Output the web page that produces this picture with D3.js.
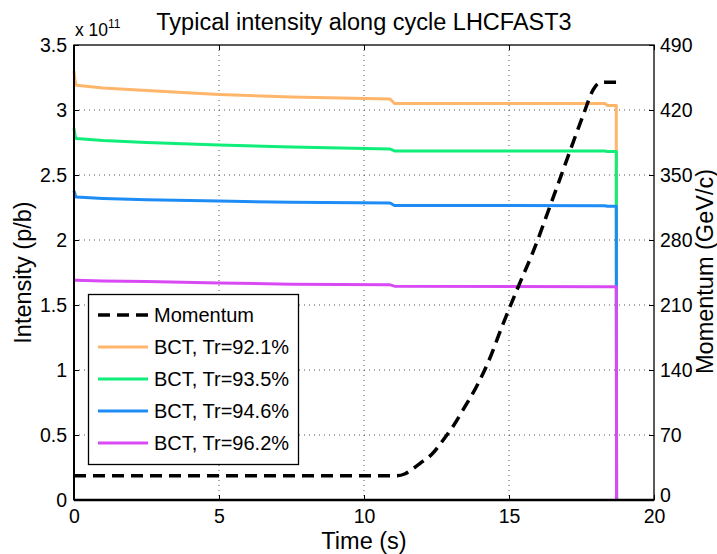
<!DOCTYPE html>
<html><head><meta charset="utf-8">
<script src="https://cdn.jsdelivr.net/npm/d3@7"></script>
<style>
body{margin:0;background:#fff;}
svg{display:block;font-family:"Liberation Sans",Arial,Helvetica,sans-serif;}
</style></head>
<body><div id="chart"></div>
<script>
// ---- data ----
const title = "Typical intensity along cycle LHCFAST3";
const xTicks = [0, 5, 10, 15, 20];
const yLeftTicks = [0, 0.5, 1, 1.5, 2, 2.5, 3, 3.5];
const yRightTicks = [0, 70, 140, 210, 280, 350, 420, 490];

// momentum (GeV/c) vs time (s)
const momT = [0, 11.1, 11.4, 11.7, 12.0, 12.33, 12.73, 13.1, 13.48, 13.94, 14.29, 14.8, 15.32, 15.84, 16.41, 16.99, 17.56, 17.9, 18.1, 18.3, 18.93];
const momP = [26, 26, 28, 34, 41, 49, 64.6, 80.8, 100.5, 125.7, 149, 190, 229.7, 268, 316, 366, 414.6, 441.6, 449, 450, 450];

// BCT intensities (units of 1e11 p/b)
const bctT = [0, 0.04, 0.08, 1, 2.5, 5, 7.5, 10.9, 11.05, 15, 18.3, 18.4, 18.7, 18.71];
const bct921 = [3.30, 3.22, 3.19, 3.17, 3.15, 3.12, 3.10, 3.085, 3.05, 3.05, 3.05, 3.035, 3.035, 0];
const bct935 = [2.86, 2.80, 2.78, 2.765, 2.75, 2.73, 2.715, 2.70, 2.685, 2.685, 2.685, 2.68, 2.68, 0];
const bct946 = [2.38, 2.35, 2.33, 2.32, 2.31, 2.30, 2.29, 2.285, 2.265, 2.265, 2.264, 2.26, 2.26, 0];
const bct962 = [1.69, 1.69, 1.69, 1.685, 1.68, 1.67, 1.66, 1.655, 1.645, 1.643, 1.641, 1.64, 1.64, 0];

const seriesNames = ["BCT, Tr=92.1%", "BCT, Tr=93.5%", "BCT, Tr=94.6%", "BCT, Tr=96.2%"];
const seriesValues = [bct921, bct935, bct946, bct962];
const seriesColors = ["#ffb66b", "#10ee7a", "#1e8cf5", "#d94af5"];

// ---- layout ----
const W = 717, H = 554;
const m = {left: 74, right: 63, top: 45, bottom: 54};
const svg = d3.select("#chart").append("svg").attr("width", W).attr("height", H);

const x = d3.scaleLinear().domain([0, 20]).range([m.left, W - m.right]);
const yL = d3.scaleLinear().domain([0, 3.5]).range([H - m.bottom, m.top]);
const yR = d3.scaleLinear().domain([0, 490]).range([H - m.bottom, m.top]);

// grid
const grid = svg.append("g");
grid.selectAll("line.gx").data(xTicks.slice(1, -1)).join("line")
  .attr("x1", d => x(d)).attr("x2", d => x(d)).attr("y1", m.top).attr("y2", H - m.bottom)
  .attr("stroke", "#555").attr("stroke-width", 1).attr("stroke-dasharray", "1,4");
grid.selectAll("line.gy").data(yLeftTicks.slice(1, -1)).join("line")
  .attr("y1", d => yL(d)).attr("y2", d => yL(d)).attr("x1", m.left).attr("x2", W - m.right)
  .attr("stroke", "#555").attr("stroke-width", 1).attr("stroke-dasharray", "1,4");

// BCT lines
const lineL = d3.line().x((d, i) => x(bctT[i])).y(d => yL(d));
seriesValues.forEach((vals, k) => {
  svg.append("path").datum(vals).attr("d", lineL)
    .attr("fill", "none").attr("stroke", seriesColors[k]).attr("stroke-width", 3)
    .attr("stroke-linejoin", "round");
});

// momentum
const lineR = d3.line().x((d, i) => x(momT[i])).y(d => yR(d)).curve(d3.curveMonotoneX);
svg.append("path").datum(momP).attr("d", lineR)
  .attr("fill", "none").attr("stroke", "#000").attr("stroke-width", 3.5)
  .attr("stroke-dasharray", "12,7");

// frame
svg.append("rect").attr("x", m.left).attr("y", m.top)
  .attr("width", W - m.left - m.right).attr("height", H - m.top - m.bottom)
  .attr("fill", "none").attr("stroke", "#000").attr("stroke-width", 1.3);
svg.append("line").attr("x1", m.left).attr("x2", W - m.right).attr("y1", H - m.bottom).attr("y2", H - m.bottom)
  .attr("stroke", "#000").attr("stroke-width", 2.5);
svg.append("line").attr("x1", m.left).attr("x2", m.left).attr("y1", m.top).attr("y2", H - m.bottom)
  .attr("stroke", "#000").attr("stroke-width", 2);

// axes
const fs = 19.5;
const axB = svg.append("g").attr("transform", `translate(0,${H - m.bottom})`)
  .call(d3.axisBottom(x).tickValues(xTicks).tickFormat(d3.format("d")).tickSize(-5).tickPadding(9));
const axL = svg.append("g").attr("transform", `translate(${m.left},0)`)
  .call(d3.axisLeft(yL).tickValues(yLeftTicks).tickFormat(d => d === 0 ? "0" : d3.format("~g")(d)).tickSize(-5).tickPadding(7));
const axR = svg.append("g").attr("transform", `translate(${W - m.right},0)`)
  .call(d3.axisRight(yR).tickValues(yRightTicks).tickFormat(d3.format("d")).tickSize(-5).tickPadding(6));
const axT = svg.append("g").attr("transform", `translate(0,${m.top})`)
  .call(d3.axisTop(x).tickValues(xTicks).tickSize(-5).tickFormat(""));
[axB, axL, axR, axT].forEach(a => {
  a.select(".domain").remove();
  a.selectAll(".tick line").attr("stroke", "#000").attr("stroke-width", 1);
  a.selectAll("text").attr("font-size", fs).attr("fill", "#000").attr("font-family", "Liberation Sans, Arial, sans-serif");
});
// keep right-axis "0" clear of the bottom "20"
axR.selectAll(".tick").filter(d => d === 0).select("text").attr("dy", "0.1em");

// titles
svg.append("text").attr("x", (m.left + W - m.right) / 2).attr("y", 30)
  .attr("text-anchor", "middle").attr("font-size", 23.5).text(title);
svg.append("text").attr("x", (m.left + W - m.right) / 2).attr("y", 549)
  .attr("text-anchor", "middle").attr("font-size", 23.5).text("Time (s)");
svg.append("text").attr("transform", `translate(31,${(m.top + H - m.bottom) / 2}) rotate(-90)`)
  .attr("text-anchor", "middle").attr("font-size", 23.5).text("Intensity (p/b)");
svg.append("text").attr("transform", `translate(713,${(m.top + H - m.bottom) / 2 - 1}) rotate(-90)`)
  .attr("text-anchor", "middle").attr("font-size", 23.5).text("Momentum (GeV/c)");
const ex = svg.append("text").attr("x", 75).attr("y", 36).attr("font-size", 17.5);
ex.append("tspan").text("x 10");
ex.append("tspan").attr("dy", -8).attr("font-size", 12).text("11");

// legend
const lg = svg.append("g");
lg.append("rect").attr("x", 88.5).attr("y", 294.5).attr("width", 210).attr("height", 170)
  .attr("fill", "#fff").attr("stroke", "#000").attr("stroke-width", 1.3);
const legNames = ["Momentum"].concat(seriesNames);
const legColors = ["#000"].concat(seriesColors);
legNames.forEach((nm, i) => {
  const cy = 315 + i * 32;
  lg.append("line").attr("x1", 98).attr("x2", 148).attr("y1", cy).attr("y2", cy)
    .attr("stroke", legColors[i]).attr("stroke-width", i === 0 ? 3.5 : 3)
    .attr("stroke-dasharray", i === 0 ? "12,7" : null);
  lg.append("text").attr("x", 154).attr("y", cy + 7).attr("font-size", 20).text(nm);
});
</script></body></html>
